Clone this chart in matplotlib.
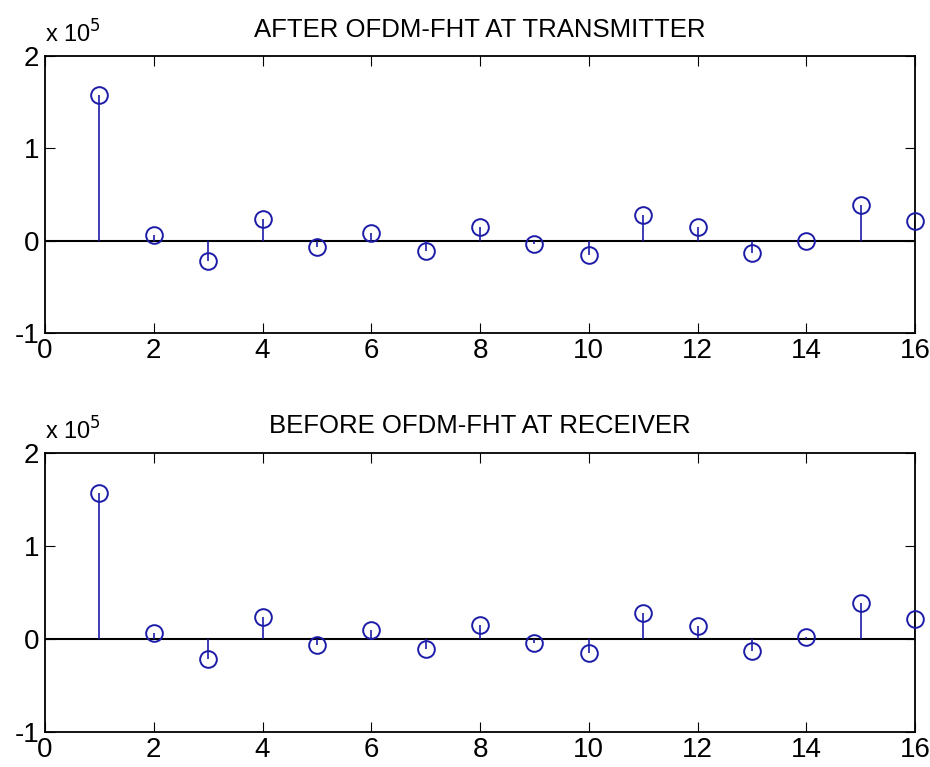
import numpy as np
import matplotlib.pyplot as plt
from matplotlib import font_manager

names = {f.name for f in font_manager.fontManager.ttflist}
fam = 'Liberation Sans Narrow' if 'Liberation Sans Narrow' in names else 'Liberation Sans'
plt.rcParams['font.family'] = [fam, 'DejaVu Sans']
plt.rcParams['axes.unicode_minus'] = False

n = np.arange(1, 17)
tx = [158000, 6500, -22400, 23500, -7000, 8300, -11600, 14400,
      -3600, -15500, 27800, 15200, -13000, 0, 39000, 20900]
rx = [156600, 6500, -21500, 23200, -6500, 8900, -10800, 14300,
      -4300, -15000, 27500, 14000, -13300, 1700, 38700, 20700]
titles = ['AFTER OFDM-FHT AT TRANSMITTER', 'BEFORE OFDM-FHT AT RECEIVER']
xticks = list(range(0, 17, 2))
yticks = [-1, 0, 1, 2]

blue = '#1c1ca8'
fig = plt.figure(figsize=(9.3, 7.67), dpi=100)
boxes = [[0.0484, 0.566, 0.9356, 0.361], [0.0484, 0.046, 0.9356, 0.364]]

for box, vals, title in zip(boxes, [tx, rx], titles):
    ax = fig.add_axes(box)
    y = np.array(vals) / 1e5
    ax.axhline(0, color='black', lw=1.5, zorder=1)
    ml, sl, bl = ax.stem(n, y, basefmt=' ')
    plt.setp(sl, color=blue, lw=1.2)
    plt.setp(ml, marker='o', markersize=12, markerfacecolor='none',
             markeredgecolor=blue, markeredgewidth=1.4, clip_on=False, zorder=3)
    ax.set_xlim(0, 16)
    ax.set_ylim(-1, 2)
    ax.set_xticks(xticks)
    ax.set_yticks(yticks)
    ax.tick_params(direction='in', top=True, right=True, length=7,
                   labelsize=20, pad=4)
    for s in ax.spines.values():
        s.set_linewidth(1.3)
    ax.set_title(title, fontsize=18.5, pad=14)
    ax.text(0.0, 1.03, r'x 10$^5$', transform=ax.transAxes, fontsize=17,
            ha='left', va='bottom')

fig.savefig('out.png', dpi=100)
